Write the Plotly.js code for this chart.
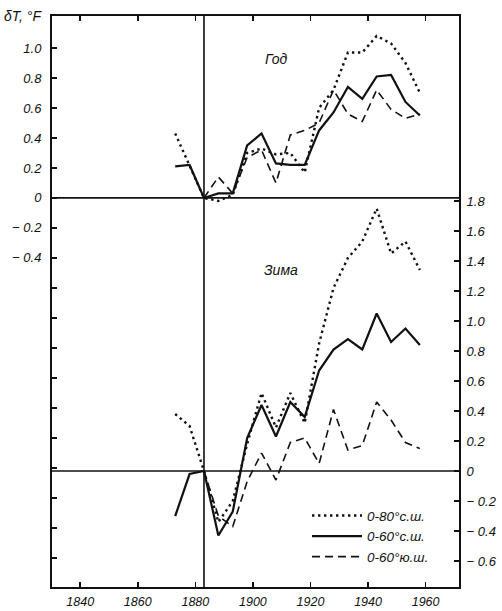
<!DOCTYPE html>
<html>
<head>
<meta charset="utf-8">
<script src="https://cdn.plot.ly/plotly-3.0.1.min.js"></script>
<style>html,body{margin:0;padding:0;background:#fff;}#chart{width:502px;height:611px;}</style>
</head>
<body>
<div id="chart"></div>
<script>
// Epoch years (5-year steps around the 1883 eruption)
const years = [1873, 1878, 1883, 1888, 1893, 1898, 1903, 1908, 1913, 1918, 1923, 1928, 1933, 1938, 1943, 1948, 1953, 1958];
const eruptionYear = 1883;

// Год (annual), left axis, °F
const yearN80 = [0.43, 0.22, 0, -0.02, 0.02, 0.30, 0.33, 0.29, 0.30, 0.17, 0.60, 0.72, 0.97, 0.97, 1.08, 1.03, 0.90, 0.70];
const yearN60 = [0.21, 0.22, 0, 0.03, 0.03, 0.35, 0.43, 0.23, 0.22, 0.22, 0.45, 0.57, 0.74, 0.66, 0.81, 0.82, 0.64, 0.55];
const yearS60 = [null, null, 0, 0.14, 0.03, 0.27, 0.32, 0.10, 0.42, 0.45, 0.50, 0.72, 0.56, 0.51, 0.72, 0.59, 0.53, 0.56];

// Зима (winter), right axis, °F
const winterN80 = [0.38, 0.30, 0, -0.34, -0.20, 0.18, 0.52, 0.29, 0.52, 0.32, 0.85, 1.22, 1.42, 1.53, 1.75, 1.45, 1.53, 1.34];
const winterN60 = [-0.30, -0.02, 0, -0.43, -0.27, 0.22, 0.44, 0.23, 0.46, 0.36, 0.67, 0.81, 0.88, 0.81, 1.05, 0.86, 0.95, 0.84];
const winterS60 = [null, null, 0, -0.30, -0.37, -0.07, 0.12, -0.06, 0.19, 0.22, 0.05, 0.41, 0.14, 0.17, 0.46, 0.34, 0.19, 0.15];

const seriesNames = ["0-80°с.ш.", "0-60°с.ш.", "0-60°ю.ш."];

const xTickVals = [1840, 1860, 1880, 1900, 1920, 1940, 1960];
const xTickText = ["1840", "1860", "1880", "1900", "1920", "1940", "1960"];

const leftTickVals = [-2.4, -2.2, -2.0, -1.8, -1.6, -1.4, -1.2, -1.0, -0.8, -0.6, -0.4, -0.2, 0, 0.2, 0.4, 0.6, 0.8, 1.0];
const leftTickText = ["", "", "", "", "", "", "", "", "", "", "− 0.4", "− 0.2", "0", "0.2", "0.4", "0.6", "0.8", "1.0"];

const rightTickVals = [-0.6, -0.4, -0.2, 0, 0.2, 0.4, 0.6, 0.8, 1.0, 1.2, 1.4, 1.6, 1.8];
const rightTickText = ["− 0.6", "− 0.4", "− 0.2", "0", "0.2", "0.4", "0.6", "0.8", "1.0", "1.2", "1.4", "1.6", "1.8"];

const upperRightTickVals = [0.2, 0.4, 0.6, 0.8, 1.0];

const INK = "#111";
const styles = [
  {color: INK, width: 2.4, dash: "2.4px,3.6px"},
  {color: INK, width: 2.2, dash: "solid"},
  {color: INK, width: 1.6, dash: "8px,5px"}
];

const fontFam = "Liberation Sans, Arial, sans-serif";
const italic = (size) => ({family: fontFam, size: size, color: INK, style: "italic"});

const annualSets = [yearN80, yearN60, yearS60];
const winterSets = [winterN80, winterN60, winterS60];
const traces = [];
for (let i = 0; i < 3; i++) {
  traces.push({
    x: years, y: annualSets[i], type: "scatter", mode: "lines",
    line: styles[i], name: seriesNames[i], legendgroup: "g" + i,
    showlegend: true, yaxis: "y", connectgaps: false, hoverinfo: "skip"
  });
}
for (let i = 0; i < 3; i++) {
  traces.push({
    x: years, y: winterSets[i], type: "scatter", mode: "lines",
    line: styles[i], name: seriesNames[i], legendgroup: "g" + i,
    showlegend: false, yaxis: "y2", connectgaps: false, hoverinfo: "skip"
  });
}

const layout = {
  width: 502, height: 611,
  margin: {l: 52, r: 43, t: 16, b: 24, pad: 0},
  paper_bgcolor: "#fff", plot_bgcolor: "#fff",
  showlegend: true,
  legend: {
    x: 0.6265, y: 0.152, xanchor: "left", yanchor: "top",
    bgcolor: "rgba(0,0,0,0)", borderwidth: 0,
    font: italic(13.5), itemwidth: 50, tracegroupgap: 0,
    traceorder: "normal"
  },
  xaxis: {
    range: [1830.2, 1971.6], tickvals: xTickVals, ticktext: xTickText,
    ticks: "inside", ticklen: 5, tickwidth: 1.5, tickcolor: INK,
    showline: true, linewidth: 2, linecolor: INK, mirror: "ticks",
    showgrid: false, zeroline: false, tickfont: italic(12.5), ticklabelstandoff: 2
  },
  yaxis: {
    range: [-2.594, 1.213], tickvals: leftTickVals, ticktext: leftTickText,
    side: "left", ticks: "inside", ticklen: 5, tickwidth: 1.5, tickcolor: INK,
    showline: true, linewidth: 2, linecolor: INK,
    showgrid: false, zeroline: false, tickfont: italic(13), ticklabelstandoff: 6
  },
  yaxis2: {
    range: [-0.773, 3.033], tickvals: rightTickVals, ticktext: rightTickText,
    overlaying: "y", side: "right", anchor: "x",
    ticks: "inside", ticklen: 5, tickwidth: 1.5, tickcolor: INK,
    showline: true, linewidth: 2, linecolor: INK,
    showgrid: false, zeroline: false, tickfont: italic(13), ticklabelstandoff: 3
  },
  yaxis3: {
    range: [-2.594, 1.213], tickvals: upperRightTickVals, showticklabels: false,
    overlaying: "y", side: "right", anchor: "x",
    ticks: "inside", ticklen: 5, tickwidth: 1.5, tickcolor: INK,
    showline: false, showgrid: false, zeroline: false
  },
  shapes: [
    {type: "line", xref: "paper", x0: 0, x1: 1, yref: "y", y0: 0, y1: 0, line: {color: INK, width: 1.8}},
    {type: "line", xref: "paper", x0: 0, x1: 1, yref: "y2", y0: 0, y1: 0, line: {color: INK, width: 1.6}},
    {type: "line", xref: "x", x0: eruptionYear, x1: eruptionYear, yref: "paper", y0: 0, y1: 1, line: {color: INK, width: 1.6}}
  ],
  annotations: [
    {text: "δT, °F", xref: "paper", yref: "paper", x: -0.02, y: 1.0, xanchor: "right", yanchor: "middle", showarrow: false, font: italic(14)},
    {text: "Год", xref: "paper", yref: "paper", x: 0.552, y: 0.925, xanchor: "center", yanchor: "middle", showarrow: false, font: italic(14)},
    {text: "Зима", xref: "paper", yref: "paper", x: 0.562, y: 0.555, xanchor: "center", yanchor: "middle", showarrow: false, font: italic(14)}
  ]
};

Plotly.newPlot("chart", traces, layout, {staticPlot: true, displayModeBar: false});
</script>
</body>
</html>
